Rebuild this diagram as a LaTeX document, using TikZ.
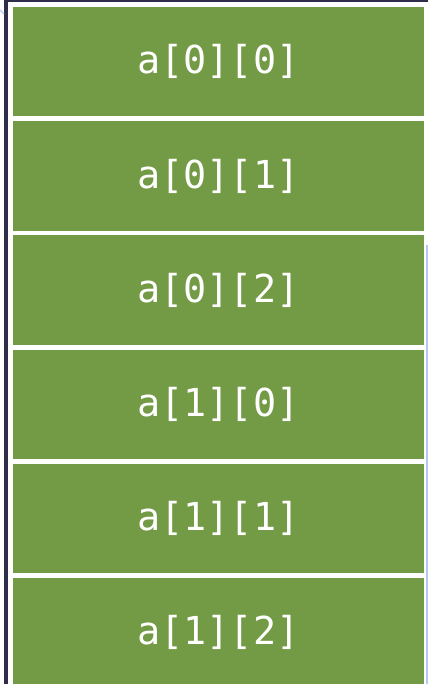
\documentclass[tikz,border=0pt]{standalone}
\usepackage{fontspec}
\setmonofont{DejaVu Sans Mono}
\usetikzlibrary{positioning}
\definecolor{cellgreen}{RGB}{115,154,68}
\definecolor{edgenavy}{RGB}{46,46,74}
\definecolor{edgeblue}{RGB}{180,200,240}

\begin{document}
\begin{tikzpicture}[x=1pt,y=-1pt,node distance=4.3pt,cell/.style={fill=cellgreen,text=white,minimum width=411.3pt,minimum height=109.5pt,inner sep=0pt,font=\ttfamily\fontsize{38.5}{40}\selectfont}]
		\useasboundingbox (0,0) rectangle (428,684);
		\fill[edgenavy] (4,0) rectangle (8.3,684);
		\fill[edgenavy] (4,0) rectangle (428,2.3);
		\fill[edgeblue] (426,245) rectangle (427.5,684);
		\draw[edgeblue,line width=1.2pt] (0,10) -- (4,14);
		\node[cell] (a00) at (218.35,61.75) {a[0][0]};
		\node[cell,below=of a00] (a01) {a[0][1]};
		\node[cell,below=of a01] (a02) {a[0][2]};
		\node[cell,below=of a02] (a10) {a[1][0]};
		\node[cell,below=of a10] (a11) {a[1][1]};
		\node[cell,below=of a11] (a12) {a[1][2]};
	\end{tikzpicture}
\end{document}
